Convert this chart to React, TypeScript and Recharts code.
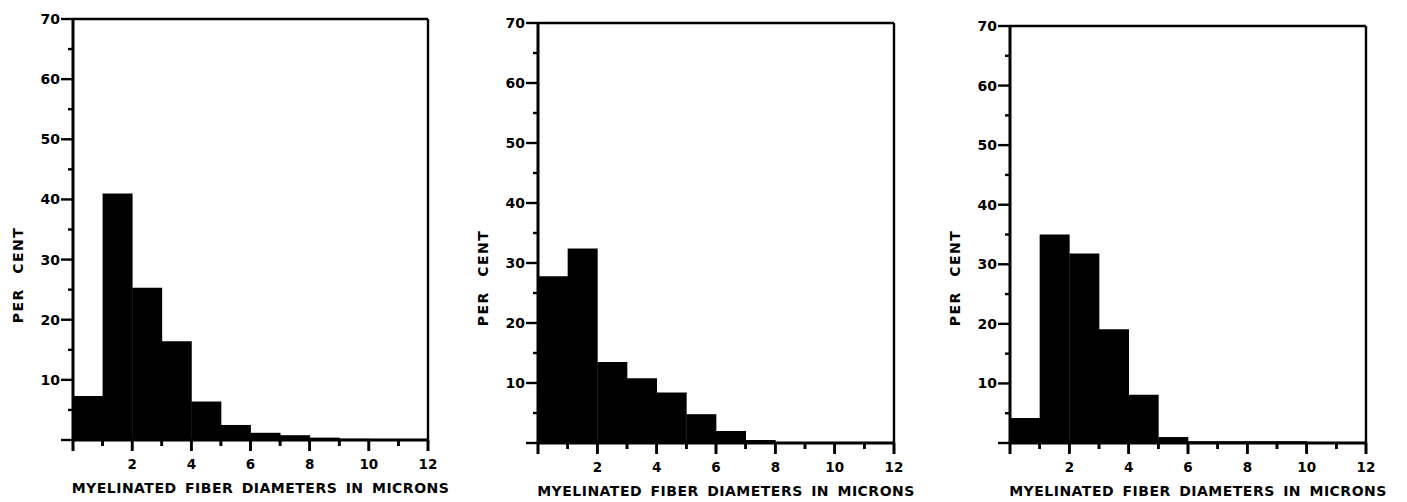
import { BarChart, Bar, XAxis, YAxis, ReferenceLine } from "recharts";

// bin midpoints in microns (bins 0-1 ... 11-12)
const binMid = [0.5, 1.5, 2.5, 3.5, 4.5, 5.5, 6.5, 7.5, 8.5, 9.5, 10.5, 11.5];

// per cent of fibers in each bin, one array per panel
const panelA = [7.3, 41, 25.3, 16.4, 6.4, 2.5, 1.2, 0.8, 0.4, 0.2, 0.1, 0];
const panelB = [27.8, 32.4, 13.5, 10.8, 8.4, 4.8, 2.0, 0.5, 0.1, 0.1, 0.1, 0];
const panelC = [4.2, 35, 31.8, 19.1, 8.1, 1.0, 0.3, 0.3, 0.3, 0.3, 0, 0];

const xTicks = [0, 1, 2, 3, 4, 5, 6, 7, 8, 9, 10, 11, 12];
const yTicks = [0, 5, 10, 15, 20, 25, 30, 35, 40, 45, 50, 55, 60, 65, 70];

const xTitle = "MYELINATED FIBER DIAMETERS IN MICRONS";
const yTitle = "PER CENT";

const FONT = "'DejaVu Sans', sans-serif";

const XTick = (props: any) => {
  const { x, y, payload } = props;
  const v = payload.value;
  const major = v % 2 === 0;
  return (
    <g>
      <line x1={x} y1={y} x2={x} y2={y + (major ? 11 : 6)} stroke="#000" strokeWidth={2.6} />
      {major && v > 0 && (
        <text x={x} y={y + 29} textAnchor="middle" fontFamily={FONT} fontWeight={700} fontSize={13.5} fill="#000">
          {v}
        </text>
      )}
    </g>
  );
};

const YTick = ({ x, y, payload }: any) => {
  const v = payload.value;
  const major = v % 10 === 0;
  return (
    <g>
      <line x1={x - (major ? 12 : 5)} y1={y} x2={x} y2={y} stroke="#000" strokeWidth={2.4} />
      {major && v > 0 && (
        <text x={x - 13} y={y + 5} textAnchor="end" fontFamily={FONT} fontWeight={700} fontSize={14} fill="#000">
          {v}
        </text>
      )}
    </g>
  );
};

const XTitle = ({ viewBox }: any) => (
  <text
    x={viewBox.x + viewBox.width / 2 + 10}
    y={viewBox.y + 53}
    textAnchor="middle"
    fontFamily={FONT}
    fontWeight={700}
    fontSize={14}
    letterSpacing={0.5}
    wordSpacing={3}
    fill="#000"
  >
    {xTitle}
  </text>
);

const YTitle = ({ viewBox }: any) => {
  const cx = viewBox.x + viewBox.width - 55;
  const cy = viewBox.y + viewBox.height - 165;
  return (
    <text
      x={cx}
      y={cy}
      transform={`rotate(-90 ${cx} ${cy})`}
      dy={5}
      textAnchor="middle"
      fontFamily={FONT}
      fontWeight={700}
      fontSize={14}
      letterSpacing={1.5}
      wordSpacing={8}
      fill="#000"
    >
      {yTitle}
    </text>
  );
};

// plot box of each panel, in page pixels
function Panel({ values, left, width, plot }: any) {
  const data = binMid.map((m, i) => ({ x: m, pct: values[i] }));
  const margin = {
    top: plot.top - 1,
    right: left + width - plot.right - 1,
    bottom: 502 - plot.bottom - 60,
    left: plot.left - left - 60,
  };
  return (
    <div style={{ position: "absolute", left, top: 0 }}>
      <BarChart width={width} height={502} data={data} margin={margin} barCategoryGap={0} barGap={0}>
        <Bar xAxisId="num" yAxisId="left" dataKey="pct" fill="#000" isAnimationActive={false} />
        <XAxis
          xAxisId="num"
          type="number"
          dataKey="x"
          domain={[0, 12]}
          ticks={xTicks}
          interval={0}
          height={60}
          tickSize={0}
          tickMargin={0}
          tick={XTick}
          tickLine={false}
          axisLine={{ stroke: "#000", strokeWidth: 3 }}
          label={{ content: (p: any) => <XTitle viewBox={p.viewBox} /> }}
        />
        <XAxis
          xAxisId="top"
          orientation="top"
          type="number"
          dataKey="x"
          domain={[0, 12]}
          height={1}
          tick={false}
          tickLine={false}
          axisLine={{ stroke: "#000", strokeWidth: 2.4 }}
        />
        <YAxis
          yAxisId="left"
          type="number"
          domain={[0, 70]}
          ticks={yTicks}
          interval={0}
          width={60}
          tickSize={0}
          tickMargin={0}
          tick={YTick}
          tickLine={false}
          axisLine={{ stroke: "#000", strokeWidth: 3 }}
          label={{ content: (p: any) => <YTitle viewBox={p.viewBox} /> }}
        />
        <YAxis
          yAxisId="right"
          orientation="right"
          type="number"
          domain={[0, 70]}
          width={1}
          tick={false}
          tickLine={false}
          axisLine={{ stroke: "#000", strokeWidth: 2.4 }}
        />
        {/* tick marks hanging below the x axis, placed through the axis scales */}
        {xTicks.map((t) => (
          <ReferenceLine
            key={t}
            xAxisId="num"
            yAxisId="left"
            segment={[
              { x: t, y: 0 },
              { x: t, y: t % 2 === 0 ? -1.8 : -1 },
            ]}
            ifOverflow="visible"
            stroke="#000"
            strokeWidth={2.6}
          />
        ))}
      </BarChart>
    </div>
  );
}

export default function App() {
  return (
    <div style={{ position: "absolute", left: 0, top: 0, width: 1407, height: 502, background: "#fff" }}>
      <Panel values={panelA} left={0} width={470} plot={{ left: 73, right: 428, top: 19, bottom: 440 }} />
      <Panel values={panelB} left={470} width={470} plot={{ left: 538, right: 894, top: 23, bottom: 443 }} />
      <Panel values={panelC} left={940} width={467} plot={{ left: 1010, right: 1366, top: 26, bottom: 443 }} />
    </div>
  );
}
